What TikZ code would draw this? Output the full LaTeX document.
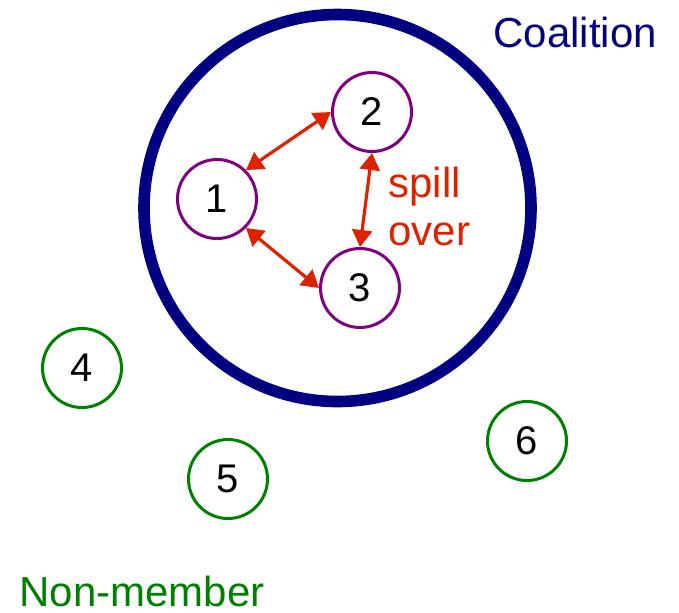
\documentclass[tikz,border=0pt]{standalone}
\usepackage{fontspec}
\setmainfont{Liberation Sans}
\usepackage{xcolor}
\usetikzlibrary{arrows.meta,positioning}

\definecolor{coalnavy}{RGB}{0,0,128}
\definecolor{memberpurple}{RGB}{128,0,128}
\definecolor{outgreen}{RGB}{0,128,0}
\definecolor{spillred}{RGB}{221,34,0}

\begin{document}
\begin{tikzpicture}[
    x=0.5pt, y=-0.5pt,
    coalition/.style={circle, draw=coalnavy, line width=5.8pt, minimum size=193.5pt, inner sep=0pt},
    member/.style={circle, draw=memberpurple, line width=1.5pt, minimum size=39.5pt, inner sep=0pt, font=\fontsize{20}{24}\selectfont},
    outsider/.style={member, draw=outgreen},
    tag/.style={inner sep=0pt, font=\fontsize{21}{24}\selectfont},
    arrow/.style={{Triangle[length=8.5pt,width=10pt]}-{Triangle[length=8.5pt,width=10pt]}, line width=1.6pt, draw=spillred}
]
    \useasboundingbox (0,0) rectangle (679,612);

    \node[coalition] (coal) at (337.5,208) {};
    \node[member] (m1) at (217,199) {1};
    \node[member] (m2) at (372,112) {2};
    \node[member] (m3) at (360,288) {3};
    \node[outsider] (m4) at (82,368) {4};
    \node[outsider] (m5) at (228,479) {5};
    \node[outsider] (m6) at (527,441) {6};

    \node[tag, text=coalnavy, anchor=base west] (coaltext) at (493,47) {Coalition};
    \node[tag, text=spillred, anchor=base west, align=left] (spilltext) at (388,245) {spill\\over};
    \node[tag, text=outgreen, anchor=base west] (nontext) at (19,606) {Non-member};

    \draw[arrow] (m1.45) -- (m2.west);
    \draw[arrow] (m2.south) -- (m3.north);
    \draw[arrow] (m1.-45) -- (m3.west);
\end{tikzpicture}
\end{document}
